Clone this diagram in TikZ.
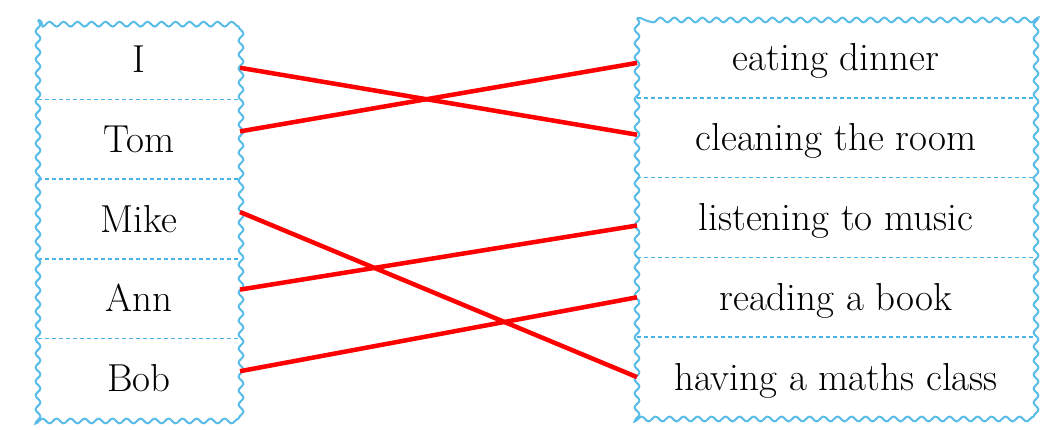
\documentclass[tikz,border=0pt]{standalone}
\usepackage{tikz}
\usetikzlibrary{positioning}
\usetikzlibrary{decorations.pathmorphing}

\begin{document}
\begin{tikzpicture}[x=1pt,y=-1pt,
	cell/.style={inner sep=0pt,outer sep=0pt,minimum height=79.6pt,
		text height=26pt,text depth=0pt,font=\fontsize{39}{46}\selectfont},
	who/.style={cell,minimum width=202pt},
	what/.style={cell,minimum width=398pt,minimum height=79.8pt},
	wavy/.style={draw=frame,line width=2pt,decorate,
		decoration={snake,segment length=14pt,amplitude=2.4pt}},
	divider/.style={draw=dash,line width=1.6pt,dash pattern=on 4pt off 3pt},
	link/.style={draw=linkred,line width=4.5pt}]
	
	\definecolor{frame}{RGB}{90,188,232}
	\definecolor{dash}{RGB}{70,180,230}
	\definecolor{linkred}{RGB}{255,0,0}
	
	\useasboundingbox (0,0) rectangle (1053,429);
	
	\node[who] (i) at (139,59.8) {I};
	\node[who] (tom) [below=0pt of i] {Tom};
	\node[who] (mike) [below=0pt of tom] {Mike};
	\node[who] (ann) [below=0pt of mike] {Ann};
	\node[who] (bob) [below=0pt of ann] {Bob};
	
	\node[what] (eat) at (836,57.9) {eating dinner};
	\node[what] (clean) [below=0pt of eat] {cleaning the room};
	\node[what] (listen) [below=0pt of clean] {listening to music};
	\node[what] (read) [below=0pt of listen] {reading a book};
	\node[what] (maths) [below=0pt of read] {having a maths class};
	
	\foreach \a in {i,tom,mike,ann,eat,clean,listen,read}
		\draw[divider] (\a.south west) -- (\a.south east);
	
	\draw[wavy] (i.north west) rectangle (bob.south east);
	\draw[wavy] (eat.north west) rectangle (maths.south east);
	
	\draw[link] ([yshift=-8pt]i.east) -- ([yshift=3pt]clean.west);
	\draw[link] ([yshift=8pt]tom.east) -- ([yshift=-5pt]eat.west);
	\draw[link] ([yshift=7pt]mike.east) -- (maths.west);
	\draw[link] ([yshift=9pt]ann.east) -- ([yshift=-8pt]listen.west);
	\draw[link] ([yshift=7pt]bob.east) -- (read.west);
\end{tikzpicture}
\end{document}
